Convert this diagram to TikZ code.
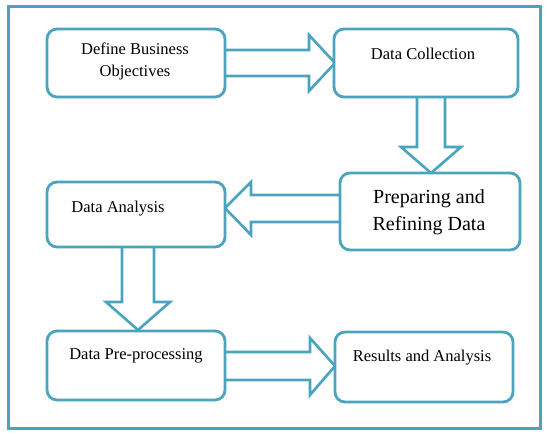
\documentclass[tikz,border=0pt]{standalone}
\usepackage{fontspec}
\setmainfont{Liberation Serif}
\definecolor{teal1}{RGB}{74,164,189}
\begin{document}
\begin{tikzpicture}[x=1pt,y=-1pt,
  box/.style={draw=teal1,line width=2.8pt,rounded corners=10pt,fill=white},
  blk/.style={draw=teal1,line width=2.6pt,fill=white,line join=miter},
  lbl/.style={font=\fontsize{16.5}{22}\selectfont,align=center,inner sep=0pt},
  biglbl/.style={font=\fontsize{20}{27}\selectfont,align=center,inner sep=0pt}]
\useasboundingbox (0,0) rectangle (547,434);
\draw[teal1,line width=3pt] (8,6) rectangle (540,428);
% block arrows
\draw[blk] (225,50) -- (309,50) -- (309,35) -- (335,63) -- (309,91) -- (309,76) -- (225,76);
\draw[blk] (417,97) -- (417,147) -- (401,147) -- (431,173) -- (461,147) -- (445,147) -- (445,97);
\draw[blk] (340,195) -- (251,195) -- (251,182) -- (225,208) -- (251,235) -- (251,222) -- (340,222);
\draw[blk] (122,248) -- (122,302) -- (106,302) -- (138,330) -- (170,302) -- (154,302) -- (154,248);
\draw[blk] (225,352) -- (310,352) -- (310,338) -- (335,366) -- (310,395) -- (310,380) -- (225,380);
% boxes
\draw[box] (47,29) rectangle (225,97);
\draw[box] (334,29) rectangle (518,97);
\draw[box] (340,173) rectangle (520,250);
\draw[box] (47,182) rectangle (225,247);
\draw[box] (47,331) rectangle (225,400);
\draw[box] (335,332) rectangle (513,402);
% labels
\node[lbl] (t1) at (135,61) {Define Business\\Objectives};
\node[lbl] (t2) at (423,54) {Data Collection};
\node[biglbl] (t3) at (429,212) {Preparing and\\Refining Data};
\node[lbl] (t4) at (118,209) {Data Analysis};
\node[lbl] (t5) at (136,356) {Data Pre-processing};
\node[lbl] (t6) at (422,358) {Results and Analysis};
\end{tikzpicture}
\end{document}
